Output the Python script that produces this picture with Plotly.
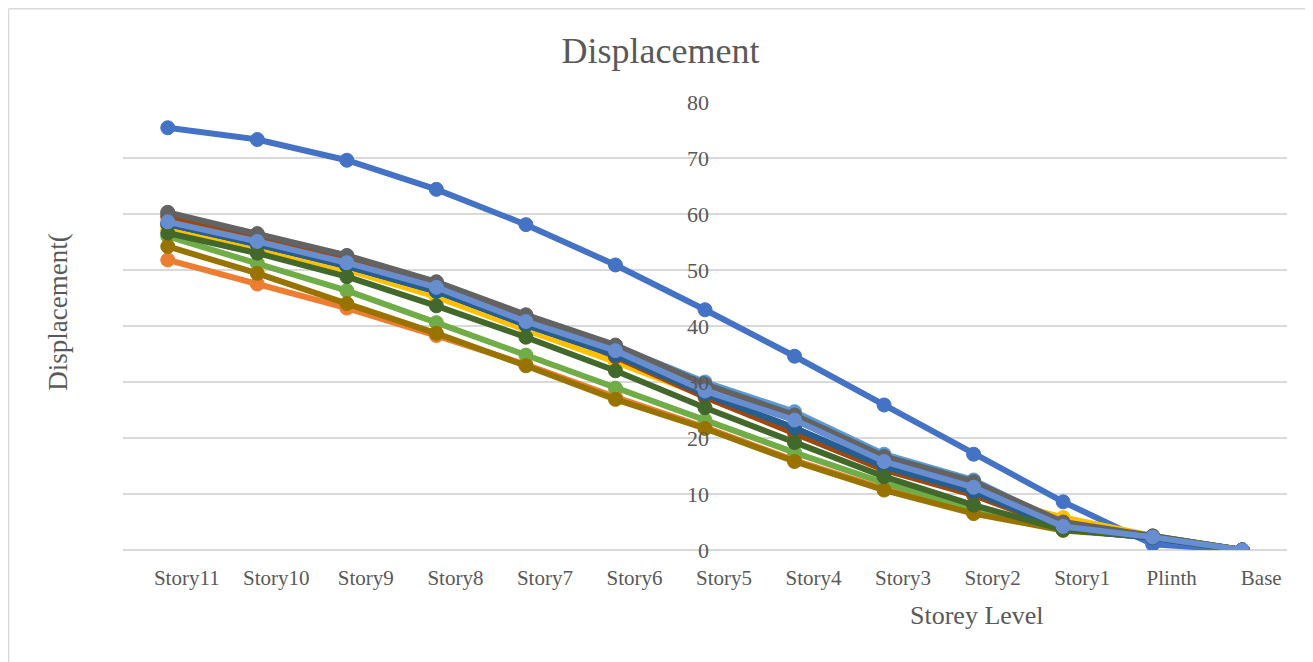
import plotly.graph_objects as go

categories = ["Story11", "Story10", "Story9", "Story8", "Story7", "Story6", "Story5",
              "Story4", "Story3", "Story2", "Story1", "Plinth", "Base"]

s01 = [75.4, 73.3, 69.6, 64.4, 58.1, 50.9, 42.9, 34.6, 25.9, 17.1, 8.6, 1.0, 0]
s02 = [51.8, 47.5, 43.2, 38.3, 33.1, 27.3, 21.9, 16.0, 10.9, 6.7, 3.6, 2.3, 0]
s03 = [60.2, 56.4, 52.5, 47.8, 41.9, 36.5, 29.5, 24.0, 16.6, 12.1, 5.0, 2.5, 0]
s04 = [57.4, 53.9, 50.0, 45.2, 39.3, 33.6, 27.5, 21.5, 14.5, 10.0, 5.8, 2.5, 0]
s05 = [59.9, 56.3, 52.3, 47.7, 41.7, 36.4, 30.0, 24.7, 17.1, 12.5, 4.6, 2.5, 0]
s06 = [56.0, 51.2, 46.3, 40.6, 34.8, 28.9, 23.2, 17.4, 12.0, 7.4, 3.6, 2.4, 0]
s07 = [58.2, 54.6, 50.7, 46.2, 40.2, 34.8, 27.8, 21.8, 14.9, 10.4, 3.7, 2.2, 0]
s08 = [59.5, 55.9, 51.9, 47.3, 41.3, 34.5, 27.3, 20.9, 14.3, 9.8, 3.8, 2.3, 0]
s09 = [60.3, 56.5, 52.6, 47.9, 42.0, 36.6, 29.6, 24.1, 16.7, 12.2, 5.0, 2.5, 0]
s10 = [54.2, 49.4, 44.0, 38.7, 32.9, 26.9, 21.7, 15.8, 10.7, 6.5, 3.5, 2.3, 0]
s11 = [58.2, 54.6, 50.7, 46.2, 40.2, 34.8, 27.8, 21.8, 14.9, 10.4, 3.7, 2.2, 0]
s12 = [56.6, 53.0, 48.8, 43.6, 38.0, 32.0, 25.4, 19.2, 13.1, 8.0, 3.6, 2.4, 0]
s13 = [58.6, 55.1, 51.3, 46.9, 40.8, 35.6, 28.4, 23.2, 15.8, 11.2, 4.2, 2.3, 0]

series = [s01, s02, s03, s04, s05, s06, s07, s08, s09, s10, s11, s12, s13]
colors = ["#4472C4", "#ED7D31", "#A5A5A5", "#FFC000", "#5B9BD5", "#70AD47", "#264478",
          "#9E480E", "#636363", "#997300", "#255E91", "#43682B", "#698ED0"]

y_ticks = [0, 10, 20, 30, 40, 50, 60, 70, 80]

FONT = "Liberation Serif, Times New Roman, serif"
TXT = "#595959"

fig = go.Figure()
for i, (vals, col) in enumerate(zip(series, colors)):
    fig.add_trace(go.Scatter(
        x=categories, y=vals, mode="lines+markers", name=f"Series{i+1}",
        line=dict(color=col, width=6),
        marker=dict(color=col, size=14, line=dict(color=col, width=1)),
        showlegend=False,
    ))

# page body has an 8px margin; work in reference pixel coordinates shifted by OFF
OFF = 8
W, H = 1313 - OFF, 662 - OFF
PL, PR, PT, PB = 123.25 - OFF, 1286.75 - OFF, 102 - OFF, 550 - OFF
L, R, T, B = PL, W - PR, PT, H - PB
pw, ph = PR - PL, PB - PT


def px(xr):
    return (xr - OFF - PL) / pw


def py(yr):
    return (PB - (yr - OFF)) / ph


edge = OFF + 0.8

fig.update_layout(
    width=W, height=H,
    margin=dict(l=L, r=R, t=T, b=B, pad=0),
    paper_bgcolor="white", plot_bgcolor="white",
    font=dict(family=FONT, color=TXT, size=21),
    title=dict(text="Displacement", x=0.5, xanchor="center", y=1 - (50 - OFF) / H, yanchor="middle",
               font=dict(family=FONT, size=36, color=TXT)),
    xaxis=dict(type="category", range=[-0.5, 12.5], showgrid=False, showline=False,
               ticks="", tickfont=dict(family=FONT, size=21, color=TXT),
               ticklabelshift=19, ticklabelstandoff=13),
    yaxis=dict(range=[0, 80], tickvals=y_ticks, showgrid=True, gridcolor="#d9d9d9", gridwidth=1.5,
               zeroline=True, zerolinecolor="#d9d9d9", zerolinewidth=1.5,
               showline=False, ticks="", anchor="free", position=px(709),
               tickfont=dict(family=FONT, size=22, color=TXT)),
    annotations=[
        dict(text="Storey Level", xref="paper", yref="paper", x=px(977),
             y=py(615), xanchor="center", yanchor="middle",
             showarrow=False, font=dict(family=FONT, size=26, color=TXT)),
        dict(text="Displacement(", xref="paper", yref="paper", x=px(58),
             y=py(312), xanchor="center", yanchor="middle",
             textangle=-90, showarrow=False, font=dict(family=FONT, size=27, color=TXT)),
    ],
    shapes=[
        dict(type="line", xref="paper", yref="paper", x0=px(edge), x1=px(1330),
             y0=py(edge), y1=py(edge), line=dict(color="#d9d9d9", width=1.5)),
        dict(type="line", xref="paper", yref="paper", x0=px(edge), x1=px(edge),
             y0=py(edge), y1=py(680), line=dict(color="#d9d9d9", width=1.5)),
    ],
)

fig.write_html("out.html")
